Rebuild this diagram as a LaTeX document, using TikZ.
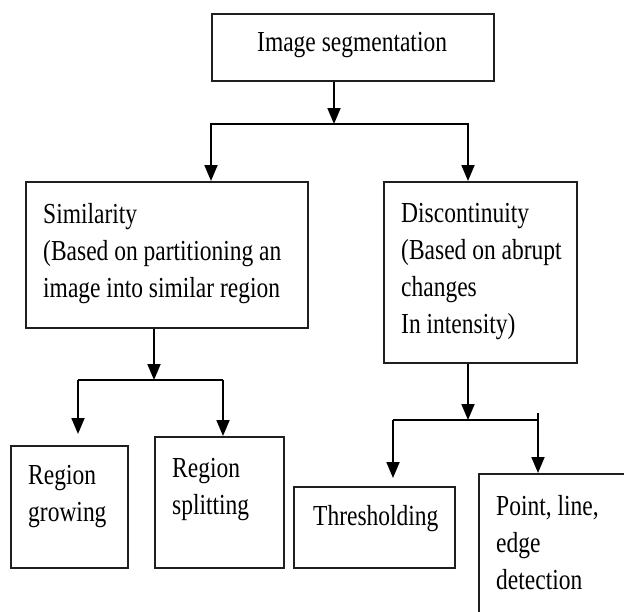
\documentclass[tikz,border=0pt]{standalone}
\usepackage{fontspec}
\setmainfont{Liberation Serif}[FakeStretch=0.81]
\usetikzlibrary{arrows.meta,positioning}

\begin{document}
\begin{tikzpicture}[x=1pt, y=-1pt,
  frame/.style={draw=black!88, line width=1.8pt, anchor=north west, inner sep=0pt},
  txt/.style={anchor=north west, inner sep=0pt, align=left, font=\fontsize{29}{37}\selectfont},
  bar/.style={draw=black, line width=1.8pt},
  feed/.style={bar, -{Triangle[length=16pt,width=13pt]}},
  link/.style={bar, {Triangle[length=16pt,width=13pt]}-{Triangle[length=16pt,width=13pt]}}]
\clip (0,0) rectangle (624,611);
% boxes
\node[frame, minimum width=282pt, minimum height=67pt] (seg) at (211,13) {};
\node[frame, minimum width=282pt, minimum height=146pt] (sim) at (25,181) {};
\node[frame, minimum width=193pt, minimum height=181pt] (disc) at (383,181) {};
\node[frame, minimum width=117pt, minimum height=122pt] (grow) at (10,445) {};
\node[frame, minimum width=129pt, minimum height=131pt] (split) at (154,436) {};
\node[frame, minimum width=161pt, minimum height=81pt] (thresh) at (293,486) {};
\node[frame, minimum width=170pt, minimum height=160pt] (edge) at (478,473) {};
% texts
\node[txt] (segtxt) at ([shift={(46,19)}]seg.north west) {Image segmentation};
\node[txt] (simtxt) at ([shift={(18,22)}]sim.north west) {Similarity\\(Based on partitioning an\\image into similar region};
\node[txt] (disctxt) at ([shift={(18,22)}]disc.north west) {Discontinuity\\(Based on abrupt\\changes\\In intensity)};
\node[txt] (growtxt) at ([shift={(18,20)}]grow.north west) {Region\\growing};
\node[txt] (splittxt) at ([shift={(18,22)}]split.north west) {Region\\splitting};
\node[txt] (threshtxt) at ([shift={(20,19)}]thresh.north west) {Thresholding};
\node[txt] (edgetxt) at ([shift={(18,22)}]edge.north west) {Point, line,\\edge\\detection};
% junctions
\coordinate (j1) at (334,124);
\coordinate (j1l) at (211,124);
\coordinate (j1r) at (468,124);
\coordinate (j2) at (154,380);
\coordinate (j2l) at (78,380);
\coordinate (j2r) at (223,380);
\coordinate (j3) at (468,420);
\coordinate (j3l) at (393,420);
\coordinate (j3r) at (538,420);
% connectors
\draw[feed] (seg.south -| j1) -- (j1);
\draw[link] (j1l |- sim.north) -- (j1l) -- (j1r) -- (j1r |- disc.north);
\draw[feed] (sim.south -| j2) -- (j2);
\draw[bar] (j2l) -- (j2r);
\draw[feed, shorten >=11pt] (j2l) -- (j2l |- grow.north);
\draw[feed] (j2r) -- (j2r |- split.north);
\draw[feed] (disc.south -| j3) -- (j3);
\draw[bar] (j3l) -- (j3r);
\draw[feed, shorten >=8pt] (j3l) -- (j3l |- thresh.north);
\draw[feed] ([yshift=7pt]j3r) -- (j3r |- edge.north);
\end{tikzpicture}
\end{document}
